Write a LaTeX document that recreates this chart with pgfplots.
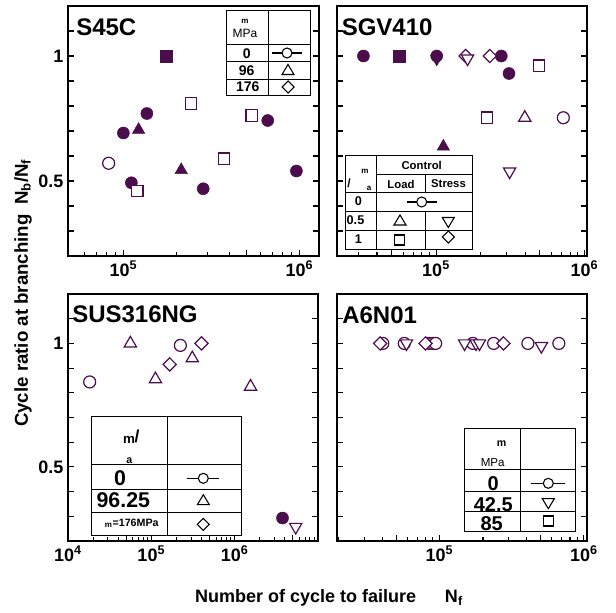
\documentclass[border=0pt]{standalone}
\usepackage{pgfplots}
\pgfplotsset{compat=1.18}
\usepackage{fontspec}
\setmainfont{Liberation Sans}
\definecolor{purp}{HTML}{4B0D4B}
\newcommand\fs[1]{\fontsize{#1}{#1}\selectfont}

\pgfplotsset{
  every axis/.append style={
    scale only axis, ymin=0.2, ymax=1.2, clip=false,
    anchor=south west,
    axis line style={line width=0.9pt},
    tick align=inside, xtick pos=left,
    major tick length=4.5pt, minor tick length=3pt,
    every tick/.style={black, line width=0.8pt},
    ytick={0.2,0.3,0.4,0.5,0.6,0.7,0.8,0.9,1,1.1,1.2},
    ticklabel style={font=\bfseries\fs{13.5}},
    extra x tick labels={},
  },
  fcirc/.style={only marks, mark=*, mark size=4.5pt, color=purp},
  fsq/.style={only marks, mark=square*, mark size=4.5pt, color=purp},
  ftri/.style={only marks, mark=triangle*, mark size=5.3pt, color=purp},
  fdtri/.style={only marks, mark=triangle*, mark size=5.3pt, color=purp, mark options={rotate=180}},
  ocirc/.style={only marks, mark=*, mark size=4.5pt, mark options={draw=purp, fill=white, line width=0.9pt}},
  osq/.style={only marks, mark=square*, mark size=4.3pt, mark options={draw=purp, fill=white, line width=0.9pt}},
  otri/.style={only marks, mark=triangle*, mark size=5.3pt, mark options={draw=purp, fill=white, line width=0.9pt}},
  odtri/.style={only marks, mark=triangle*, mark size=5.3pt, mark options={draw=purp, fill=white, line width=0.9pt, rotate=180}},
  odia/.style={only marks, mark=square*, mark size=3.5pt, mark options={draw=purp, fill=white, line width=0.9pt, rotate=45}},
}

% legend symbols, pixel units
\newcommand\lcirc[3]{\draw[line width=0.8pt] ({#1-#3},#2)--({#1+#3},#2); \draw[line width=0.8pt, fill=white] (#1,#2) circle[radius=5];}
\newcommand\ltri[2]{\draw[line width=0.8pt] (#1,{#2-6})--({#1+6},{#2+4})--({#1-6},{#2+4})--cycle;}
\newcommand\ldtri[2]{\draw[line width=0.8pt] (#1,{#2+6})--({#1+6},{#2-4})--({#1-6},{#2-4})--cycle;}
\newcommand\lsq[2]{\draw[line width=0.8pt] ({#1-5},{#2-5}) rectangle ({#1+5},{#2+5});}
\newcommand\ldia[2]{\draw[line width=0.8pt] (#1,{#2-6})--({#1+6},#2)--(#1,{#2+6})--({#1-6},#2)--cycle;}

\begin{document}
\begin{tikzpicture}
\useasboundingbox (0,0) rectangle (462pt,459pt);

% S45C
\begin{axis}[xmode=log, at={(51pt,267pt)}, width=188.25pt, height=187.5pt,
  xmin=4.85e4, xmax=1.29e6, yticklabels={,,,0.5,,,,,1,,},
  xtick={1e5,1e6}, xticklabels={10\textsuperscript{5},10\textsuperscript{6}},
  minor xtick={6e4,7e4,8e4,9e4,2e5,3e5,4e5,6e5,7e5,8e5,9e5},
  extra x ticks={5e5}]
\addplot[fcirc] coordinates {(1.36e5,0.77) (6.6e5,0.742) (1.0e5,0.692) (9.6e5,0.54) (1.11e5,0.493) (2.84e5,0.469)};
\addplot[fsq] coordinates {(1.76e5,1.0)};
\addplot[ftri] coordinates {(1.22e5,0.705) (2.13e5,0.544)};
\addplot[ocirc] coordinates {(8.25e4,0.571)};
\addplot[osq] coordinates {(2.42e5,0.81) (5.36e5,0.762) (3.73e5,0.589) (1.2e5,0.46)};
\end{axis}

% SGV410
\begin{axis}[xmode=log, at={(252.75pt,267pt)}, width=187.5pt, height=187.5pt,
  xmin=2.15e4, xmax=1.04e6, yticklabels={},
  xtick={1e5,1e6}, xticklabels={10\textsuperscript{5},10\textsuperscript{6}},
  minor xtick={3e4,4e4,6e4,7e4,8e4,9e4,2e5,3e5,4e5,6e5,7e5,8e5,9e5},
  extra x ticks={5e4,5e5}]
\addplot[fdtri] coordinates {(1.01e5,0.989)};
\addplot[fcirc] coordinates {(3.24e4,1) (1.01e5,1) (2.75e5,1) (3.1e5,0.93)};
\addplot[fsq] coordinates {(5.65e4,1)};
\addplot[ftri] coordinates {(1.12e5,0.638)};
\addplot[odia] coordinates {(1.58e5,1) (2.3e5,1)};
\addplot[odtri] coordinates {(1.63e5,0.99) (3.13e5,0.538)};
\addplot[osq] coordinates {(4.93e5,0.961) (2.2e5,0.753)};
\addplot[otri] coordinates {(3.96e5,0.753)};
\addplot[ocirc] coordinates {(7.2e5,0.753)};
\end{axis}

% SUS316NG
\begin{axis}[xmode=log, at={(51pt,53.25pt)}, width=187.5pt, height=185.25pt,
  xmin=1e4, xmax=1e7, yticklabels={,,,0.5,,,,,1,,},
  xtick={1e4,1e5,1e6,1e7}, xticklabels={10\textsuperscript{4},10\textsuperscript{5},10\textsuperscript{6},{}},
  minor xtick={2e4,3e4,4e4,6e4,7e4,8e4,9e4,2e5,3e5,4e5,6e5,7e5,8e5,9e5,2e6,3e6,4e6,6e6,7e6,8e6,9e6},
  extra x ticks={5e4,5e5,5e6}]
\addplot[ocirc] coordinates {(1.82e4,0.844) (2.23e5,0.992)};
\addplot[otri] coordinates {(5.6e4,1.0) (1.12e5,0.855) (3.1e5,0.94) (1.55e6,0.825)};
\addplot[odia] coordinates {(1.66e5,0.915) (4.0e5,1.0)};
\addplot[fcirc] coordinates {(3.75e6,0.293)};
\addplot[odtri] coordinates {(5.4e6,0.257)};
\end{axis}

% A6N01
\begin{axis}[xmode=log, at={(252.75pt,53.25pt)}, width=187.5pt, height=185.25pt,
  xmin=1.95e4, xmax=1.05e6, yticklabels={},
  xtick={1e5,1e6}, xticklabels={10\textsuperscript{5},10\textsuperscript{6}},
  minor xtick={2e4,3e4,4e4,6e4,7e4,8e4,9e4,2e5,3e5,4e5,6e5,7e5,8e5,9e5},
  extra x ticks={5e4,5e5}]
\addplot[ocirc] coordinates {(4.05e4,1) (5.7e4,1) (8.5e4,1) (9.0e4,1) (9.4e4,1) (1.70e5,1) (2.37e5,1) (4.09e5,1) (6.7e5,1)};
\addplot[odtri] coordinates {(5.9e4,1) (1.49e5,1) (1.79e5,1) (1.89e5,1) (5.07e5,0.989)};
\addplot[odia] coordinates {(3.88e4,1) (8.0e4,1) (2.77e5,1)};
\end{axis}

\begin{scope}[shift={(0pt,459pt)}, x=0.75pt, y=-0.75pt, font=\bfseries]
% titles
\node[anchor=west, inner sep=0pt, font=\bfseries\fs{18}] at (76,27) {S45C};
\node[anchor=west, inner sep=0pt, font=\bfseries\fs{18}] at (341.5,27) {SGV410};
\node[anchor=west, inner sep=0pt, font=\bfseries\fs{18}] at (72,314) {SUS316NG};
\node[anchor=west, inner sep=0pt, font=\bfseries\fs{18}] at (342,315) {A6N01};
% axis labels
\node[rotate=90, font=\bfseries\fs{14}] at (23,293) {Cycle ratio at branching\hspace{0.5em}N\textsubscript{b}/N\textsubscript{f}};
\node[font=\bfseries\fs{13.5}] at (329,598) {Number of cycle to failure\hspace{1.6em}N\textsubscript{f}};

% S45C legend
\draw[line width=0.75pt] (226.7,10.7) rectangle (310.7,95);
\draw[line width=0.75pt] (268.3,10.7)--(268.3,95)
  (226.7,45)--(310.7,45) (226.7,61.7)--(310.7,61.7) (226.7,79)--(310.7,79);
\node[font=\bfseries\fs{6}] at (245,21.5) {m};
\node[font=\mdseries\fs{9}] at (245,33.3) {MPa};
\node[font=\bfseries\fs{10.5}] at (246.7,53.3) {0};
\node[font=\bfseries\fs{10.5}] at (246.7,70.3) {96};
\node[font=\bfseries\fs{10.5}] at (247.7,87) {176};
\lcirc{287}{53}{15}
\ltri{288}{70.5}
\ldia{288}{87}

% SGV410 legend
\draw[line width=0.75pt] (345,155.7) rectangle (472.7,249.3);
\draw[line width=0.75pt] (376,155.7)--(376,249.3) (376,174.3)--(472.7,174.3)
  (425,174.3)--(425,192.7) (425,211)--(425,249.3)
  (345,192.7)--(472.7,192.7) (345,211)--(472.7,211) (345,230)--(472.7,230);
\node[font=\bfseries\fs{8.5}] at (421.7,165.5) {Control};
\node[font=\bfseries\fs{8.5}] at (401,184) {Load};
\node[font=\bfseries\fs{8.5}] at (448.5,184) {Stress};
\node[font=\bfseries\fs{9}] at (349,183) {/};
\node[font=\bfseries\fs{6}] at (365,171.5) {m};
\node[font=\bfseries\fs{6}] at (369,188) {a};
\node[font=\bfseries\fs{9.5}] at (358.3,201.5) {0};
\node[font=\bfseries\fs{9.5}] at (355.5,220.5) {0.5};
\node[font=\bfseries\fs{9.5}] at (358.3,239.5) {1};
\lcirc{421.7}{202}{15}
\ltri{400}{221}
\ldtri{448.3}{221.5}
\lsq{399.3}{240}
\ldia{448.3}{237}

% SUS316NG legend
\draw[line width=0.75pt] (91.7,416.7) rectangle (241.7,535.5);
\draw[line width=0.75pt] (167.3,416.7)--(167.3,535.5)
  (91.7,464.3)--(241.7,464.3) (91.7,489)--(241.7,489) (91.7,512.3)--(241.7,512.3);
\node[font=\bfseries\fs{10}] at (129,440) {m};
\node[font=\bfseries\fs{13}] at (137,436) {/};
\node[font=\bfseries\fs{8}] at (129.3,461) {a};
\node[font=\bfseries\fs{16}] at (120,478.3) {0};
\node[font=\bfseries\fs{16}] at (123.3,500.5) {96.25};
\node[font=\bfseries\fs{8}] at (131.7,523) {\textsubscript{m}=176MPa};
\lcirc{203.3}{478.3}{16}
\ltri{203.3}{500.7}
\ldia{203.3}{524.3}

% A6N01 legend
\draw[line width=0.75pt] (464.3,428.3) rectangle (575.7,531.7);
\draw[line width=0.75pt] (520.7,428.3)--(520.7,531.7)
  (464.3,469)--(575.7,469) (464.3,491)--(575.7,491) (464.3,511)--(575.7,511);
\node[font=\bfseries\fs{8}] at (501.7,444) {m};
\node[font=\mdseries\fs{8.7}] at (492.7,462.7) {MPa};
\node[font=\bfseries\fs{15}] at (493.3,483.3) {0};
\node[font=\bfseries\fs{15}] at (493.3,504.5) {42.5};
\node[font=\bfseries\fs{15}] at (491.7,523.5) {85};
\lcirc{548.3}{483.3}{17}
\ldtri{548.3}{502.7}
\lsq{548.3}{521}
\end{scope}
\end{tikzpicture}
\end{document}
